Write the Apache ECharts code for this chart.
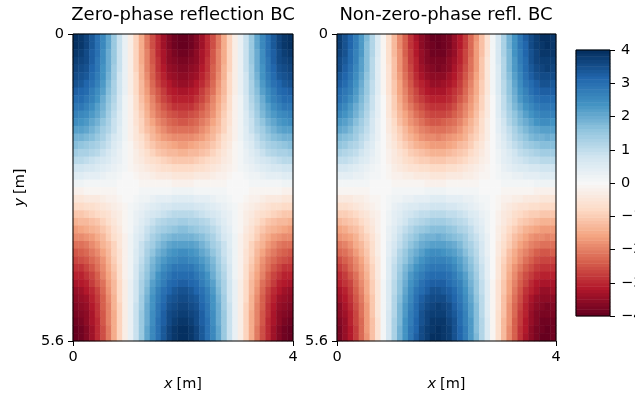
<!DOCTYPE html>
<html>
<head>
<meta charset="utf-8">
<script src="https://cdn.jsdelivr.net/npm/echarts@6/dist/echarts.min.js"></script>
<style>
  html, body { margin: 0; padding: 0; background: #fff; }
  #chart { width: 635px; height: 394px; }
</style>
</head>
<body>
<div id="chart"></div>
<script>
// cell centres (x in m, y in m)
var xCells = ['0.05','0.15','0.25','0.35','0.45','0.55','0.65','0.75','0.85','0.95',
              '1.05','1.15','1.25','1.35','1.45','1.55','1.65','1.75','1.85','1.95',
              '2.05','2.15','2.25','2.35','2.45','2.55','2.65','2.75','2.85','2.95',
              '3.05','3.15','3.25','3.35','3.45','3.55','3.65','3.75','3.85','3.95'];
var yCells = ['0.07','0.21','0.35','0.49','0.63','0.77','0.91','1.05','1.19','1.33',
              '1.47','1.61','1.75','1.89','2.03','2.17','2.31','2.45','2.59','2.73',
              '2.87','3.01','3.15','3.29','3.43','3.57','3.71','3.85','3.99','4.13',
              '4.27','4.41','4.55','4.69','4.83','4.97','5.11','5.25','5.39','5.53'];

// zero-phase reflection BC, one row per y cell (top to bottom)
var zeroPhase = [
  [4.0,3.9,3.7,3.4,3.0,2.6,2.1,1.5,0.9,0.3,-0.3,-0.9,-1.5,-2.1,-2.6,-3.0,-3.4,-3.7,-3.9,-4.0,-4.0,-3.9,-3.7,-3.4,-3.0,-2.6,-2.1,-1.5,-0.9,-0.3,0.3,0.9,1.5,2.1,2.6,3.0,3.4,3.7,3.9,4.0],
  [4.0,3.9,3.7,3.4,3.0,2.6,2.1,1.5,0.9,0.3,-0.3,-0.9,-1.5,-2.1,-2.6,-3.0,-3.4,-3.7,-3.9,-4.0,-4.0,-3.9,-3.7,-3.4,-3.0,-2.6,-2.1,-1.5,-0.9,-0.3,0.3,0.9,1.5,2.1,2.6,3.0,3.4,3.7,3.9,4.0],
  [3.9,3.8,3.6,3.3,3.0,2.5,2.0,1.5,0.9,0.3,-0.3,-0.9,-1.5,-2.0,-2.5,-3.0,-3.3,-3.6,-3.8,-3.9,-3.9,-3.8,-3.6,-3.3,-3.0,-2.5,-2.0,-1.5,-0.9,-0.3,0.3,0.9,1.5,2.0,2.5,3.0,3.3,3.6,3.8,3.9],
  [3.8,3.7,3.6,3.3,2.9,2.5,2.0,1.5,0.9,0.3,-0.3,-0.9,-1.5,-2.0,-2.5,-2.9,-3.3,-3.6,-3.7,-3.8,-3.8,-3.7,-3.6,-3.3,-2.9,-2.5,-2.0,-1.5,-0.9,-0.3,0.3,0.9,1.5,2.0,2.5,2.9,3.3,3.6,3.7,3.8],
  [3.7,3.6,3.5,3.2,2.9,2.4,2.0,1.4,0.9,0.3,-0.3,-0.9,-1.4,-2.0,-2.4,-2.9,-3.2,-3.5,-3.6,-3.7,-3.7,-3.6,-3.5,-3.2,-2.9,-2.4,-2.0,-1.4,-0.9,-0.3,0.3,0.9,1.4,2.0,2.4,2.9,3.2,3.5,3.6,3.7],
  [3.6,3.5,3.4,3.1,2.8,2.4,1.9,1.4,0.8,0.3,-0.3,-0.8,-1.4,-1.9,-2.4,-2.8,-3.1,-3.4,-3.5,-3.6,-3.6,-3.5,-3.4,-3.1,-2.8,-2.4,-1.9,-1.4,-0.8,-0.3,0.3,0.8,1.4,1.9,2.4,2.8,3.1,3.4,3.5,3.6],
  [3.5,3.4,3.2,3.0,2.7,2.3,1.8,1.3,0.8,0.3,-0.3,-0.8,-1.3,-1.8,-2.3,-2.7,-3.0,-3.2,-3.4,-3.5,-3.5,-3.4,-3.2,-3.0,-2.7,-2.3,-1.8,-1.3,-0.8,-0.3,0.3,0.8,1.3,1.8,2.3,2.7,3.0,3.2,3.4,3.5],
  [3.3,3.2,3.1,2.8,2.5,2.2,1.7,1.3,0.8,0.3,-0.3,-0.8,-1.3,-1.7,-2.2,-2.5,-2.8,-3.1,-3.2,-3.3,-3.3,-3.2,-3.1,-2.8,-2.5,-2.2,-1.7,-1.3,-0.8,-0.3,0.3,0.8,1.3,1.7,2.2,2.5,2.8,3.1,3.2,3.3],
  [3.1,3.1,2.9,2.7,2.4,2.0,1.6,1.2,0.7,0.2,-0.2,-0.7,-1.2,-1.6,-2.0,-2.4,-2.7,-2.9,-3.1,-3.1,-3.1,-3.1,-2.9,-2.7,-2.4,-2.0,-1.6,-1.2,-0.7,-0.2,0.2,0.7,1.2,1.6,2.0,2.4,2.7,2.9,3.1,3.1],
  [2.9,2.9,2.7,2.5,2.2,1.9,1.5,1.1,0.7,0.2,-0.2,-0.7,-1.1,-1.5,-1.9,-2.2,-2.5,-2.7,-2.9,-2.9,-2.9,-2.9,-2.7,-2.5,-2.2,-1.9,-1.5,-1.1,-0.7,-0.2,0.2,0.7,1.1,1.5,1.9,2.2,2.5,2.7,2.9,2.9],
  [2.7,2.6,2.5,2.3,2.1,1.8,1.4,1.0,0.6,0.2,-0.2,-0.6,-1.0,-1.4,-1.8,-2.1,-2.3,-2.5,-2.6,-2.7,-2.7,-2.6,-2.5,-2.3,-2.1,-1.8,-1.4,-1.0,-0.6,-0.2,0.2,0.6,1.0,1.4,1.8,2.1,2.3,2.5,2.6,2.7],
  [2.5,2.4,2.3,2.1,1.9,1.6,1.3,0.9,0.6,0.2,-0.2,-0.6,-0.9,-1.3,-1.6,-1.9,-2.1,-2.3,-2.4,-2.5,-2.5,-2.4,-2.3,-2.1,-1.9,-1.6,-1.3,-0.9,-0.6,-0.2,0.2,0.6,0.9,1.3,1.6,1.9,2.1,2.3,2.4,2.5],
  [2.2,2.2,2.1,1.9,1.7,1.4,1.2,0.9,0.5,0.2,-0.2,-0.5,-0.9,-1.2,-1.4,-1.7,-1.9,-2.1,-2.2,-2.2,-2.2,-2.2,-2.1,-1.9,-1.7,-1.4,-1.2,-0.9,-0.5,-0.2,0.2,0.5,0.9,1.2,1.4,1.7,1.9,2.1,2.2,2.2],
  [1.9,1.9,1.8,1.7,1.5,1.3,1.0,0.7,0.5,0.2,-0.2,-0.5,-0.7,-1.0,-1.3,-1.5,-1.7,-1.8,-1.9,-1.9,-1.9,-1.9,-1.8,-1.7,-1.5,-1.3,-1.0,-0.7,-0.5,-0.2,0.2,0.5,0.7,1.0,1.3,1.5,1.7,1.8,1.9,1.9],
  [1.7,1.6,1.5,1.4,1.3,1.1,0.9,0.6,0.4,0.1,-0.1,-0.4,-0.6,-0.9,-1.1,-1.3,-1.4,-1.5,-1.6,-1.7,-1.7,-1.6,-1.5,-1.4,-1.3,-1.1,-0.9,-0.6,-0.4,-0.1,0.1,0.4,0.6,0.9,1.1,1.3,1.4,1.5,1.6,1.7],
  [1.4,1.3,1.3,1.2,1.1,0.9,0.7,0.5,0.3,0.1,-0.1,-0.3,-0.5,-0.7,-0.9,-1.1,-1.2,-1.3,-1.3,-1.4,-1.4,-1.3,-1.3,-1.2,-1.1,-0.9,-0.7,-0.5,-0.3,-0.1,0.1,0.3,0.5,0.7,0.9,1.1,1.2,1.3,1.3,1.4],
  [1.1,1.1,1.0,0.9,0.8,0.7,0.6,0.4,0.3,0.1,-0.1,-0.3,-0.4,-0.6,-0.7,-0.8,-0.9,-1.0,-1.1,-1.1,-1.1,-1.1,-1.0,-0.9,-0.8,-0.7,-0.6,-0.4,-0.3,-0.1,0.1,0.3,0.4,0.6,0.7,0.8,0.9,1.0,1.1,1.1],
  [0.8,0.8,0.7,0.7,0.6,0.5,0.4,0.3,0.2,0.1,-0.1,-0.2,-0.3,-0.4,-0.5,-0.6,-0.7,-0.7,-0.8,-0.8,-0.8,-0.8,-0.7,-0.7,-0.6,-0.5,-0.4,-0.3,-0.2,-0.1,0.1,0.2,0.3,0.4,0.5,0.6,0.7,0.7,0.8,0.8],
  [0.5,0.5,0.4,0.4,0.4,0.3,0.2,0.2,0.1,0.0,0.0,-0.1,-0.2,-0.2,-0.3,-0.4,-0.4,-0.4,-0.5,-0.5,-0.5,-0.5,-0.4,-0.4,-0.4,-0.3,-0.2,-0.2,-0.1,0.0,0.0,0.1,0.2,0.2,0.3,0.4,0.4,0.4,0.5,0.5],
  [0.2,0.2,0.1,0.1,0.1,0.1,0.1,0.1,0.0,0.0,0.0,0.0,-0.1,-0.1,-0.1,-0.1,-0.1,-0.1,-0.2,-0.2,-0.2,-0.2,-0.1,-0.1,-0.1,-0.1,-0.1,-0.1,0.0,0.0,0.0,0.0,0.1,0.1,0.1,0.1,0.1,0.1,0.2,0.2],
  [-0.2,-0.2,-0.1,-0.1,-0.1,-0.1,-0.1,-0.1,0.0,0.0,0.0,0.0,0.1,0.1,0.1,0.1,0.1,0.1,0.2,0.2,0.2,0.2,0.1,0.1,0.1,0.1,0.1,0.1,0.0,0.0,0.0,0.0,-0.1,-0.1,-0.1,-0.1,-0.1,-0.1,-0.2,-0.2],
  [-0.5,-0.5,-0.4,-0.4,-0.4,-0.3,-0.2,-0.2,-0.1,0.0,0.0,0.1,0.2,0.2,0.3,0.4,0.4,0.4,0.5,0.5,0.5,0.5,0.4,0.4,0.4,0.3,0.2,0.2,0.1,0.0,0.0,-0.1,-0.2,-0.2,-0.3,-0.4,-0.4,-0.4,-0.5,-0.5],
  [-0.8,-0.8,-0.7,-0.7,-0.6,-0.5,-0.4,-0.3,-0.2,-0.1,0.1,0.2,0.3,0.4,0.5,0.6,0.7,0.7,0.8,0.8,0.8,0.8,0.7,0.7,0.6,0.5,0.4,0.3,0.2,0.1,-0.1,-0.2,-0.3,-0.4,-0.5,-0.6,-0.7,-0.7,-0.8,-0.8],
  [-1.1,-1.1,-1.0,-0.9,-0.8,-0.7,-0.6,-0.4,-0.3,-0.1,0.1,0.3,0.4,0.6,0.7,0.8,0.9,1.0,1.1,1.1,1.1,1.1,1.0,0.9,0.8,0.7,0.6,0.4,0.3,0.1,-0.1,-0.3,-0.4,-0.6,-0.7,-0.8,-0.9,-1.0,-1.1,-1.1],
  [-1.4,-1.3,-1.3,-1.2,-1.1,-0.9,-0.7,-0.5,-0.3,-0.1,0.1,0.3,0.5,0.7,0.9,1.1,1.2,1.3,1.3,1.4,1.4,1.3,1.3,1.2,1.1,0.9,0.7,0.5,0.3,0.1,-0.1,-0.3,-0.5,-0.7,-0.9,-1.1,-1.2,-1.3,-1.3,-1.4],
  [-1.7,-1.6,-1.5,-1.4,-1.3,-1.1,-0.9,-0.6,-0.4,-0.1,0.1,0.4,0.6,0.9,1.1,1.3,1.4,1.5,1.6,1.7,1.7,1.6,1.5,1.4,1.3,1.1,0.9,0.6,0.4,0.1,-0.1,-0.4,-0.6,-0.9,-1.1,-1.3,-1.4,-1.5,-1.6,-1.7],
  [-1.9,-1.9,-1.8,-1.7,-1.5,-1.3,-1.0,-0.7,-0.5,-0.2,0.2,0.5,0.7,1.0,1.3,1.5,1.7,1.8,1.9,1.9,1.9,1.9,1.8,1.7,1.5,1.3,1.0,0.7,0.5,0.2,-0.2,-0.5,-0.7,-1.0,-1.3,-1.5,-1.7,-1.8,-1.9,-1.9],
  [-2.2,-2.2,-2.1,-1.9,-1.7,-1.4,-1.2,-0.9,-0.5,-0.2,0.2,0.5,0.9,1.2,1.4,1.7,1.9,2.1,2.2,2.2,2.2,2.2,2.1,1.9,1.7,1.4,1.2,0.9,0.5,0.2,-0.2,-0.5,-0.9,-1.2,-1.4,-1.7,-1.9,-2.1,-2.2,-2.2],
  [-2.5,-2.4,-2.3,-2.1,-1.9,-1.6,-1.3,-0.9,-0.6,-0.2,0.2,0.6,0.9,1.3,1.6,1.9,2.1,2.3,2.4,2.5,2.5,2.4,2.3,2.1,1.9,1.6,1.3,0.9,0.6,0.2,-0.2,-0.6,-0.9,-1.3,-1.6,-1.9,-2.1,-2.3,-2.4,-2.5],
  [-2.7,-2.6,-2.5,-2.3,-2.1,-1.8,-1.4,-1.0,-0.6,-0.2,0.2,0.6,1.0,1.4,1.8,2.1,2.3,2.5,2.6,2.7,2.7,2.6,2.5,2.3,2.1,1.8,1.4,1.0,0.6,0.2,-0.2,-0.6,-1.0,-1.4,-1.8,-2.1,-2.3,-2.5,-2.6,-2.7],
  [-2.9,-2.9,-2.7,-2.5,-2.2,-1.9,-1.5,-1.1,-0.7,-0.2,0.2,0.7,1.1,1.5,1.9,2.2,2.5,2.7,2.9,2.9,2.9,2.9,2.7,2.5,2.2,1.9,1.5,1.1,0.7,0.2,-0.2,-0.7,-1.1,-1.5,-1.9,-2.2,-2.5,-2.7,-2.9,-2.9],
  [-3.1,-3.1,-2.9,-2.7,-2.4,-2.0,-1.6,-1.2,-0.7,-0.2,0.2,0.7,1.2,1.6,2.0,2.4,2.7,2.9,3.1,3.1,3.1,3.1,2.9,2.7,2.4,2.0,1.6,1.2,0.7,0.2,-0.2,-0.7,-1.2,-1.6,-2.0,-2.4,-2.7,-2.9,-3.1,-3.1],
  [-3.3,-3.2,-3.1,-2.8,-2.5,-2.2,-1.7,-1.3,-0.8,-0.3,0.3,0.8,1.3,1.7,2.2,2.5,2.8,3.1,3.2,3.3,3.3,3.2,3.1,2.8,2.5,2.2,1.7,1.3,0.8,0.3,-0.3,-0.8,-1.3,-1.7,-2.2,-2.5,-2.8,-3.1,-3.2,-3.3],
  [-3.5,-3.4,-3.2,-3.0,-2.7,-2.3,-1.8,-1.3,-0.8,-0.3,0.3,0.8,1.3,1.8,2.3,2.7,3.0,3.2,3.4,3.5,3.5,3.4,3.2,3.0,2.7,2.3,1.8,1.3,0.8,0.3,-0.3,-0.8,-1.3,-1.8,-2.3,-2.7,-3.0,-3.2,-3.4,-3.5],
  [-3.6,-3.5,-3.4,-3.1,-2.8,-2.4,-1.9,-1.4,-0.8,-0.3,0.3,0.8,1.4,1.9,2.4,2.8,3.1,3.4,3.5,3.6,3.6,3.5,3.4,3.1,2.8,2.4,1.9,1.4,0.8,0.3,-0.3,-0.8,-1.4,-1.9,-2.4,-2.8,-3.1,-3.4,-3.5,-3.6],
  [-3.7,-3.6,-3.5,-3.2,-2.9,-2.4,-2.0,-1.4,-0.9,-0.3,0.3,0.9,1.4,2.0,2.4,2.9,3.2,3.5,3.6,3.7,3.7,3.6,3.5,3.2,2.9,2.4,2.0,1.4,0.9,0.3,-0.3,-0.9,-1.4,-2.0,-2.4,-2.9,-3.2,-3.5,-3.6,-3.7],
  [-3.8,-3.7,-3.6,-3.3,-2.9,-2.5,-2.0,-1.5,-0.9,-0.3,0.3,0.9,1.5,2.0,2.5,2.9,3.3,3.6,3.7,3.8,3.8,3.7,3.6,3.3,2.9,2.5,2.0,1.5,0.9,0.3,-0.3,-0.9,-1.5,-2.0,-2.5,-2.9,-3.3,-3.6,-3.7,-3.8],
  [-3.9,-3.8,-3.6,-3.3,-3.0,-2.5,-2.0,-1.5,-0.9,-0.3,0.3,0.9,1.5,2.0,2.5,3.0,3.3,3.6,3.8,3.9,3.9,3.8,3.6,3.3,3.0,2.5,2.0,1.5,0.9,0.3,-0.3,-0.9,-1.5,-2.0,-2.5,-3.0,-3.3,-3.6,-3.8,-3.9],
  [-4.0,-3.9,-3.7,-3.4,-3.0,-2.6,-2.1,-1.5,-0.9,-0.3,0.3,0.9,1.5,2.1,2.6,3.0,3.4,3.7,3.9,4.0,4.0,3.9,3.7,3.4,3.0,2.6,2.1,1.5,0.9,0.3,-0.3,-0.9,-1.5,-2.1,-2.6,-3.0,-3.4,-3.7,-3.9,-4.0],
  [-4.0,-3.9,-3.7,-3.4,-3.0,-2.6,-2.1,-1.5,-0.9,-0.3,0.3,0.9,1.5,2.1,2.6,3.0,3.4,3.7,3.9,4.0,4.0,3.9,3.7,3.4,3.0,2.6,2.1,1.5,0.9,0.3,-0.3,-0.9,-1.5,-2.1,-2.6,-3.0,-3.4,-3.7,-3.9,-4.0]
];

// non-zero-phase reflection BC (pattern sits a little further left)
var nonZeroPhase = [
  [3.8,3.5,3.2,2.8,2.3,1.8,1.2,0.6,-0.1,-0.7,-1.3,-1.9,-2.4,-2.9,-3.3,-3.6,-3.8,-4.0,-4.0,-3.9,-3.8,-3.5,-3.2,-2.8,-2.3,-1.8,-1.2,-0.6,0.1,0.7,1.3,1.9,2.4,2.9,3.3,3.6,3.8,4.0,4.0,3.9],
  [3.8,3.5,3.2,2.8,2.3,1.7,1.2,0.6,-0.1,-0.7,-1.3,-1.9,-2.4,-2.9,-3.2,-3.6,-3.8,-3.9,-4.0,-3.9,-3.8,-3.5,-3.2,-2.8,-2.3,-1.7,-1.2,-0.6,0.1,0.7,1.3,1.9,2.4,2.9,3.2,3.6,3.8,3.9,4.0,3.9],
  [3.7,3.5,3.1,2.7,2.3,1.7,1.2,0.6,-0.1,-0.7,-1.3,-1.8,-2.4,-2.8,-3.2,-3.5,-3.7,-3.9,-3.9,-3.9,-3.7,-3.5,-3.1,-2.7,-2.3,-1.7,-1.2,-0.6,0.1,0.7,1.3,1.8,2.4,2.8,3.2,3.5,3.7,3.9,3.9,3.9],
  [3.6,3.4,3.1,2.7,2.2,1.7,1.1,0.5,-0.1,-0.7,-1.2,-1.8,-2.3,-2.8,-3.1,-3.5,-3.7,-3.8,-3.8,-3.8,-3.6,-3.4,-3.1,-2.7,-2.2,-1.7,-1.1,-0.5,0.1,0.7,1.2,1.8,2.3,2.8,3.1,3.5,3.7,3.8,3.8,3.8],
  [3.6,3.3,3.0,2.6,2.2,1.7,1.1,0.5,-0.1,-0.6,-1.2,-1.8,-2.3,-2.7,-3.1,-3.4,-3.6,-3.7,-3.8,-3.7,-3.6,-3.3,-3.0,-2.6,-2.2,-1.7,-1.1,-0.5,0.1,0.6,1.2,1.8,2.3,2.7,3.1,3.4,3.6,3.7,3.8,3.7],
  [3.4,3.2,2.9,2.5,2.1,1.6,1.1,0.5,-0.1,-0.6,-1.2,-1.7,-2.2,-2.6,-3.0,-3.3,-3.5,-3.6,-3.6,-3.6,-3.4,-3.2,-2.9,-2.5,-2.1,-1.6,-1.1,-0.5,0.1,0.6,1.2,1.7,2.2,2.6,3.0,3.3,3.5,3.6,3.6,3.6],
  [3.3,3.1,2.8,2.4,2.0,1.5,1.0,0.5,-0.1,-0.6,-1.1,-1.6,-2.1,-2.5,-2.9,-3.1,-3.3,-3.5,-3.5,-3.4,-3.3,-3.1,-2.8,-2.4,-2.0,-1.5,-1.0,-0.5,0.1,0.6,1.1,1.6,2.1,2.5,2.9,3.1,3.3,3.5,3.5,3.4],
  [3.1,2.9,2.7,2.3,1.9,1.5,1.0,0.5,-0.1,-0.6,-1.1,-1.6,-2.0,-2.4,-2.7,-3.0,-3.2,-3.3,-3.3,-3.3,-3.1,-2.9,-2.7,-2.3,-1.9,-1.5,-1.0,-0.5,0.1,0.6,1.1,1.6,2.0,2.4,2.7,3.0,3.2,3.3,3.3,3.3],
  [3.0,2.8,2.5,2.2,1.8,1.4,0.9,0.4,0.0,-0.5,-1.0,-1.5,-1.9,-2.3,-2.6,-2.8,-3.0,-3.1,-3.1,-3.1,-3.0,-2.8,-2.5,-2.2,-1.8,-1.4,-0.9,-0.4,0.0,0.5,1.0,1.5,1.9,2.3,2.6,2.8,3.0,3.1,3.1,3.1],
  [2.8,2.6,2.3,2.0,1.7,1.3,0.9,0.4,0.0,-0.5,-1.0,-1.4,-1.8,-2.1,-2.4,-2.6,-2.8,-2.9,-2.9,-2.9,-2.8,-2.6,-2.3,-2.0,-1.7,-1.3,-0.9,-0.4,0.0,0.5,1.0,1.4,1.8,2.1,2.4,2.6,2.8,2.9,2.9,2.9],
  [2.6,2.4,2.2,1.9,1.6,1.2,0.8,0.4,0.0,-0.5,-0.9,-1.3,-1.6,-1.9,-2.2,-2.4,-2.6,-2.7,-2.7,-2.7,-2.6,-2.4,-2.2,-1.9,-1.6,-1.2,-0.8,-0.4,0.0,0.5,0.9,1.3,1.6,1.9,2.2,2.4,2.6,2.7,2.7,2.7],
  [2.3,2.2,2.0,1.7,1.4,1.1,0.7,0.3,0.0,-0.4,-0.8,-1.2,-1.5,-1.8,-2.0,-2.2,-2.4,-2.5,-2.5,-2.4,-2.3,-2.2,-2.0,-1.7,-1.4,-1.1,-0.7,-0.3,0.0,0.4,0.8,1.2,1.5,1.8,2.0,2.2,2.4,2.5,2.5,2.4],
  [2.1,2.0,1.8,1.5,1.3,1.0,0.7,0.3,0.0,-0.4,-0.7,-1.0,-1.3,-1.6,-1.8,-2.0,-2.1,-2.2,-2.2,-2.2,-2.1,-2.0,-1.8,-1.5,-1.3,-1.0,-0.7,-0.3,0.0,0.4,0.7,1.0,1.3,1.6,1.8,2.0,2.1,2.2,2.2,2.2],
  [1.8,1.7,1.6,1.4,1.1,0.9,0.6,0.3,0.0,-0.3,-0.6,-0.9,-1.2,-1.4,-1.6,-1.8,-1.9,-1.9,-2.0,-1.9,-1.8,-1.7,-1.6,-1.4,-1.1,-0.9,-0.6,-0.3,0.0,0.3,0.6,0.9,1.2,1.4,1.6,1.8,1.9,1.9,2.0,1.9],
  [1.6,1.5,1.3,1.2,1.0,0.7,0.5,0.2,0.0,-0.3,-0.5,-0.8,-1.0,-1.2,-1.4,-1.5,-1.6,-1.7,-1.7,-1.7,-1.6,-1.5,-1.3,-1.2,-1.0,-0.7,-0.5,-0.2,0.0,0.3,0.5,0.8,1.0,1.2,1.4,1.5,1.6,1.7,1.7,1.7],
  [1.3,1.2,1.1,1.0,0.8,0.6,0.4,0.2,0.0,-0.2,-0.4,-0.6,-0.8,-1.0,-1.1,-1.2,-1.3,-1.4,-1.4,-1.4,-1.3,-1.2,-1.1,-1.0,-0.8,-0.6,-0.4,-0.2,0.0,0.2,0.4,0.6,0.8,1.0,1.1,1.2,1.3,1.4,1.4,1.4],
  [1.0,1.0,0.9,0.8,0.6,0.5,0.3,0.2,0.0,-0.2,-0.4,-0.5,-0.7,-0.8,-0.9,-1.0,-1.0,-1.1,-1.1,-1.1,-1.0,-1.0,-0.9,-0.8,-0.6,-0.5,-0.3,-0.2,0.0,0.2,0.4,0.5,0.7,0.8,0.9,1.0,1.0,1.1,1.1,1.1],
  [0.7,0.7,0.6,0.5,0.4,0.3,0.2,0.1,0.0,-0.1,-0.3,-0.4,-0.5,-0.6,-0.6,-0.7,-0.7,-0.8,-0.8,-0.8,-0.7,-0.7,-0.6,-0.5,-0.4,-0.3,-0.2,-0.1,0.0,0.1,0.3,0.4,0.5,0.6,0.6,0.7,0.7,0.8,0.8,0.8],
  [0.4,0.4,0.4,0.3,0.3,0.2,0.1,0.1,0.0,-0.1,-0.2,-0.2,-0.3,-0.3,-0.4,-0.4,-0.4,-0.5,-0.5,-0.5,-0.4,-0.4,-0.4,-0.3,-0.3,-0.2,-0.1,-0.1,0.0,0.1,0.2,0.2,0.3,0.3,0.4,0.4,0.4,0.5,0.5,0.5],
  [0.1,0.1,0.1,0.1,0.1,0.1,0.0,0.0,0.0,0.0,-0.1,-0.1,-0.1,-0.1,-0.1,-0.1,-0.2,-0.2,-0.2,-0.2,-0.1,-0.1,-0.1,-0.1,-0.1,-0.1,0.0,0.0,0.0,0.0,0.1,0.1,0.1,0.1,0.1,0.1,0.2,0.2,0.2,0.2],
  [-0.1,-0.1,-0.1,-0.1,-0.1,-0.1,0.0,0.0,0.0,0.0,0.1,0.1,0.1,0.1,0.1,0.1,0.2,0.2,0.2,0.2,0.1,0.1,0.1,0.1,0.1,0.1,0.0,0.0,0.0,0.0,-0.1,-0.1,-0.1,-0.1,-0.1,-0.1,-0.2,-0.2,-0.2,-0.2],
  [-0.4,-0.4,-0.4,-0.3,-0.3,-0.2,-0.1,-0.1,0.0,0.1,0.2,0.2,0.3,0.3,0.4,0.4,0.4,0.5,0.5,0.5,0.4,0.4,0.4,0.3,0.3,0.2,0.1,0.1,0.0,-0.1,-0.2,-0.2,-0.3,-0.3,-0.4,-0.4,-0.4,-0.5,-0.5,-0.5],
  [-0.7,-0.7,-0.6,-0.5,-0.4,-0.3,-0.2,-0.1,0.0,0.1,0.3,0.4,0.5,0.6,0.6,0.7,0.7,0.8,0.8,0.8,0.7,0.7,0.6,0.5,0.4,0.3,0.2,0.1,0.0,-0.1,-0.3,-0.4,-0.5,-0.6,-0.6,-0.7,-0.7,-0.8,-0.8,-0.8],
  [-1.0,-1.0,-0.9,-0.8,-0.6,-0.5,-0.3,-0.2,0.0,0.2,0.4,0.5,0.7,0.8,0.9,1.0,1.0,1.1,1.1,1.1,1.0,1.0,0.9,0.8,0.6,0.5,0.3,0.2,0.0,-0.2,-0.4,-0.5,-0.7,-0.8,-0.9,-1.0,-1.0,-1.1,-1.1,-1.1],
  [-1.3,-1.2,-1.1,-1.0,-0.8,-0.6,-0.4,-0.2,0.0,0.2,0.4,0.6,0.8,1.0,1.1,1.2,1.3,1.4,1.4,1.4,1.3,1.2,1.1,1.0,0.8,0.6,0.4,0.2,0.0,-0.2,-0.4,-0.6,-0.8,-1.0,-1.1,-1.2,-1.3,-1.4,-1.4,-1.4],
  [-1.6,-1.5,-1.3,-1.2,-1.0,-0.7,-0.5,-0.2,0.0,0.3,0.5,0.8,1.0,1.2,1.4,1.5,1.6,1.7,1.7,1.7,1.6,1.5,1.3,1.2,1.0,0.7,0.5,0.2,0.0,-0.3,-0.5,-0.8,-1.0,-1.2,-1.4,-1.5,-1.6,-1.7,-1.7,-1.7],
  [-1.8,-1.7,-1.6,-1.4,-1.1,-0.9,-0.6,-0.3,0.0,0.3,0.6,0.9,1.2,1.4,1.6,1.8,1.9,1.9,2.0,1.9,1.8,1.7,1.6,1.4,1.1,0.9,0.6,0.3,0.0,-0.3,-0.6,-0.9,-1.2,-1.4,-1.6,-1.8,-1.9,-1.9,-2.0,-1.9],
  [-2.1,-2.0,-1.8,-1.5,-1.3,-1.0,-0.7,-0.3,0.0,0.4,0.7,1.0,1.3,1.6,1.8,2.0,2.1,2.2,2.2,2.2,2.1,2.0,1.8,1.5,1.3,1.0,0.7,0.3,0.0,-0.4,-0.7,-1.0,-1.3,-1.6,-1.8,-2.0,-2.1,-2.2,-2.2,-2.2],
  [-2.3,-2.2,-2.0,-1.7,-1.4,-1.1,-0.7,-0.3,0.0,0.4,0.8,1.2,1.5,1.8,2.0,2.2,2.4,2.5,2.5,2.4,2.3,2.2,2.0,1.7,1.4,1.1,0.7,0.3,0.0,-0.4,-0.8,-1.2,-1.5,-1.8,-2.0,-2.2,-2.4,-2.5,-2.5,-2.4],
  [-2.6,-2.4,-2.2,-1.9,-1.6,-1.2,-0.8,-0.4,0.0,0.5,0.9,1.3,1.6,1.9,2.2,2.4,2.6,2.7,2.7,2.7,2.6,2.4,2.2,1.9,1.6,1.2,0.8,0.4,0.0,-0.5,-0.9,-1.3,-1.6,-1.9,-2.2,-2.4,-2.6,-2.7,-2.7,-2.7],
  [-2.8,-2.6,-2.3,-2.0,-1.7,-1.3,-0.9,-0.4,0.0,0.5,1.0,1.4,1.8,2.1,2.4,2.6,2.8,2.9,2.9,2.9,2.8,2.6,2.3,2.0,1.7,1.3,0.9,0.4,0.0,-0.5,-1.0,-1.4,-1.8,-2.1,-2.4,-2.6,-2.8,-2.9,-2.9,-2.9],
  [-3.0,-2.8,-2.5,-2.2,-1.8,-1.4,-0.9,-0.4,0.0,0.5,1.0,1.5,1.9,2.3,2.6,2.8,3.0,3.1,3.1,3.1,3.0,2.8,2.5,2.2,1.8,1.4,0.9,0.4,0.0,-0.5,-1.0,-1.5,-1.9,-2.3,-2.6,-2.8,-3.0,-3.1,-3.1,-3.1],
  [-3.1,-2.9,-2.7,-2.3,-1.9,-1.5,-1.0,-0.5,0.1,0.6,1.1,1.6,2.0,2.4,2.7,3.0,3.2,3.3,3.3,3.3,3.1,2.9,2.7,2.3,1.9,1.5,1.0,0.5,-0.1,-0.6,-1.1,-1.6,-2.0,-2.4,-2.7,-3.0,-3.2,-3.3,-3.3,-3.3],
  [-3.3,-3.1,-2.8,-2.4,-2.0,-1.5,-1.0,-0.5,0.1,0.6,1.1,1.6,2.1,2.5,2.9,3.1,3.3,3.5,3.5,3.4,3.3,3.1,2.8,2.4,2.0,1.5,1.0,0.5,-0.1,-0.6,-1.1,-1.6,-2.1,-2.5,-2.9,-3.1,-3.3,-3.5,-3.5,-3.4],
  [-3.4,-3.2,-2.9,-2.5,-2.1,-1.6,-1.1,-0.5,0.1,0.6,1.2,1.7,2.2,2.6,3.0,3.3,3.5,3.6,3.6,3.6,3.4,3.2,2.9,2.5,2.1,1.6,1.1,0.5,-0.1,-0.6,-1.2,-1.7,-2.2,-2.6,-3.0,-3.3,-3.5,-3.6,-3.6,-3.6],
  [-3.6,-3.3,-3.0,-2.6,-2.2,-1.7,-1.1,-0.5,0.1,0.6,1.2,1.8,2.3,2.7,3.1,3.4,3.6,3.7,3.8,3.7,3.6,3.3,3.0,2.6,2.2,1.7,1.1,0.5,-0.1,-0.6,-1.2,-1.8,-2.3,-2.7,-3.1,-3.4,-3.6,-3.7,-3.8,-3.7],
  [-3.6,-3.4,-3.1,-2.7,-2.2,-1.7,-1.1,-0.5,0.1,0.7,1.2,1.8,2.3,2.8,3.1,3.5,3.7,3.8,3.8,3.8,3.6,3.4,3.1,2.7,2.2,1.7,1.1,0.5,-0.1,-0.7,-1.2,-1.8,-2.3,-2.8,-3.1,-3.5,-3.7,-3.8,-3.8,-3.8],
  [-3.7,-3.5,-3.1,-2.7,-2.3,-1.7,-1.2,-0.6,0.1,0.7,1.3,1.8,2.4,2.8,3.2,3.5,3.7,3.9,3.9,3.9,3.7,3.5,3.1,2.7,2.3,1.7,1.2,0.6,-0.1,-0.7,-1.3,-1.8,-2.4,-2.8,-3.2,-3.5,-3.7,-3.9,-3.9,-3.9],
  [-3.8,-3.5,-3.2,-2.8,-2.3,-1.7,-1.2,-0.6,0.1,0.7,1.3,1.9,2.4,2.9,3.2,3.6,3.8,3.9,4.0,3.9,3.8,3.5,3.2,2.8,2.3,1.7,1.2,0.6,-0.1,-0.7,-1.3,-1.9,-2.4,-2.9,-3.2,-3.6,-3.8,-3.9,-4.0,-3.9],
  [-3.8,-3.5,-3.2,-2.8,-2.3,-1.8,-1.2,-0.6,0.1,0.7,1.3,1.9,2.4,2.9,3.3,3.6,3.8,4.0,4.0,3.9,3.8,3.5,3.2,2.8,2.3,1.8,1.2,0.6,-0.1,-0.7,-1.3,-1.9,-2.4,-2.9,-3.3,-3.6,-3.8,-4.0,-4.0,-3.9]
];

// colour bar levels, bottom to top
var cbarLevels = [
  -4.0,-3.9,-3.8,-3.7,-3.6,-3.5,-3.4,-3.3,-3.2,-3.1,
  -3.0,-2.9,-2.8,-2.7,-2.6,-2.5,-2.4,-2.3,-2.2,-2.1,
  -2.0,-1.9,-1.8,-1.7,-1.6,-1.5,-1.4,-1.3,-1.2,-1.1,
  -1.0,-0.9,-0.8,-0.7,-0.6,-0.5,-0.4,-0.3,-0.2,-0.1,
  0.0,0.1,0.2,0.3,0.4,0.5,0.6,0.7,0.8,0.9,
  1.0,1.1,1.2,1.3,1.4,1.5,1.6,1.7,1.8,1.9,
  2.0,2.1,2.2,2.3,2.4,2.5,2.6,2.7,2.8,2.9,
  3.0,3.1,3.2,3.3,3.4,3.5,3.6,3.7,3.8,3.9,4.0
];

var titles = ['Zero-phase reflection BC', 'Non-zero-phase refl. BC'];
var xTicks = [0, 4];
var yTicks = [0, 5.6];
var cbarTicks = [-4, 4];
// matplotlib RdBu
var rdBu = ['#67001f','#b2182b','#d6604d','#f4a582','#fddbc7','#f7f7f7','#d1e5f0','#92c5de','#4393c3','#2166ac','#053061'];

var font = 'DejaVu Sans';
var ink = '#000';

function toCells(rows) {
  var out = [];
  rows.forEach(function (row, j) {
    row.forEach(function (v, i) { out.push([i, j, v]); });
  });
  return out;
}

function minus(v) {
  return v < 0 ? '\u2212' + String(-v) : String(v);
}

var grids = [
  { left: 73, top: 34, width: 220, height: 307 },
  { left: 337, top: 34, width: 219, height: 307 },
  { left: 576, top: 50, width: 34, height: 266 }
];
grids.forEach(function (g) {
  g.show = true;
  g.borderColor = ink;
  g.borderWidth = 1;
  g.backgroundColor = 'transparent';
  g.z = 10;
  g.containLabel = false;
  g.outerBoundsMode = 'none';
});

var tickStyle = { show: true, length: 5, inside: false, lineStyle: { color: ink, width: 1 } };
var labelStyle = { color: ink, fontFamily: font, fontSize: 14.5 };
var nameRich = {
  i: { fontStyle: 'italic', fontFamily: font, fontSize: 14.5, color: ink },
  n: { fontFamily: font, fontSize: 14.5, color: ink }
};

function catX(gi, data) {
  return { type: 'category', gridIndex: gi, data: data, show: false };
}
function catY(gi, data, inverse) {
  return { type: 'category', gridIndex: gi, data: data, inverse: inverse, show: false };
}
function valX(gi) {
  return {
    type: 'value', gridIndex: gi, position: 'bottom',
    min: xTicks[0], max: xTicks[1], interval: xTicks[1] - xTicks[0],
    axisLine: { show: false }, axisTick: tickStyle, splitLine: { show: false },
    axisLabel: Object.assign({ margin: 9 }, labelStyle),
    name: '{i|x} {n|[m]}', nameLocation: 'middle', nameGap: 36,
    nameTextStyle: { rich: nameRich }, z: 11
  };
}
function valY(gi, withName) {
  var ax = {
    type: 'value', gridIndex: gi, position: 'left', inverse: true,
    min: yTicks[0], max: yTicks[1], interval: yTicks[1] - yTicks[0],
    axisLine: { show: false }, axisTick: tickStyle, splitLine: { show: false },
    axisLabel: Object.assign({ margin: 9 }, labelStyle), z: 11
  };
  if (withName) {
    ax.name = '{i|y} {n|[m]}';
    ax.nameLocation = 'middle';
    ax.nameGap = 45;
    ax.nameTextStyle = { rich: nameRich };
  }
  return ax;
}

var option = {
  animation: false,
  backgroundColor: '#fff',
  textStyle: { fontFamily: font },
  title: [
    { text: titles[0], left: 183, top: 6, textAlign: 'center', padding: 0,
      textStyle: { fontFamily: font, fontSize: 18, fontWeight: 'normal', color: ink } },
    { text: titles[1], left: 446, top: 6, textAlign: 'center', padding: 0,
      textStyle: { fontFamily: font, fontSize: 18, fontWeight: 'normal', color: ink } }
  ],
  grid: grids,
  xAxis: [
    catX(0, xCells), valX(0),
    catX(1, xCells), valX(1),
    catX(2, ['bar'])
  ],
  yAxis: [
    catY(0, yCells, true), valY(0, true),
    catY(1, yCells, true), valY(1, false),
    catY(2, cbarLevels.map(String), false),
    {
      type: 'value', gridIndex: 2, position: 'right',
      min: cbarTicks[0], max: cbarTicks[1], interval: 1,
      axisLine: { show: false }, axisTick: tickStyle, splitLine: { show: false },
      axisLabel: Object.assign({ margin: 11, formatter: minus }, labelStyle), z: 11
    }
  ],
  visualMap: {
    type: 'continuous',
    show: false,
    seriesIndex: [0, 1, 2],
    dimension: 2,
    min: cbarTicks[0], max: cbarTicks[1],
    inRange: { color: rdBu }
  },
  series: [
    { type: 'heatmap', xAxisIndex: 0, yAxisIndex: 0, data: toCells(zeroPhase),
      emphasis: { disabled: true }, progressive: 0 },
    { type: 'heatmap', xAxisIndex: 2, yAxisIndex: 2, data: toCells(nonZeroPhase),
      emphasis: { disabled: true }, progressive: 0 },
    { type: 'heatmap', xAxisIndex: 4, yAxisIndex: 4,
      data: cbarLevels.map(function (v, k) { return [0, k, v]; }),
      emphasis: { disabled: true }, progressive: 0 }
  ]
};

var chart = echarts.init(document.getElementById('chart'), null, { renderer: 'canvas' });
chart.setOption(option);
</script>
</body>
</html>
